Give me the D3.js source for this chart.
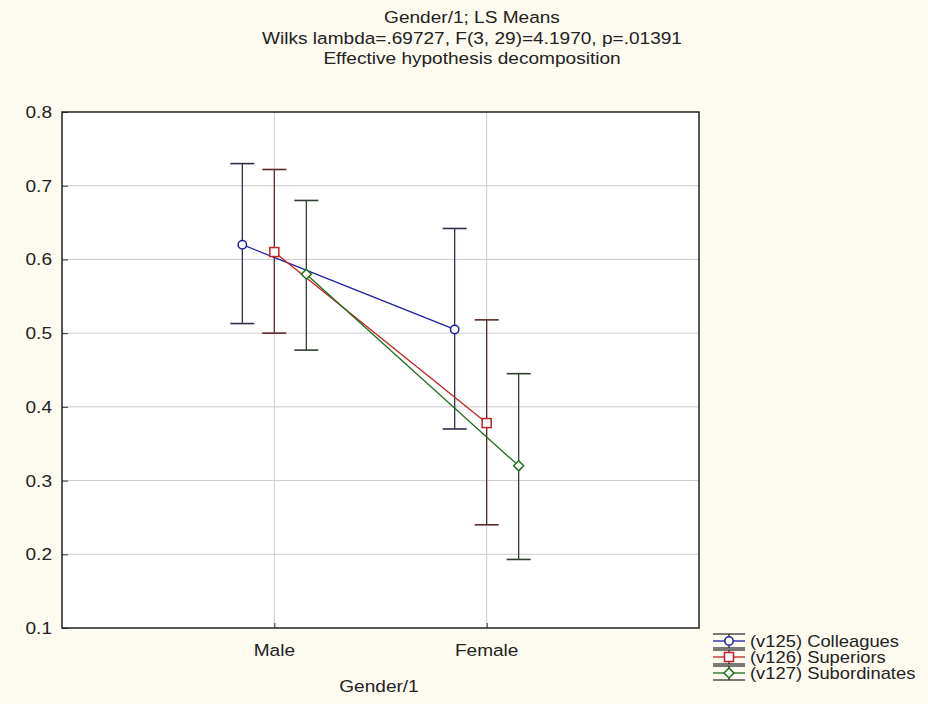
<!DOCTYPE html>
<html>
<head>
<meta charset="utf-8">
<script src="https://cdn.jsdelivr.net/npm/d3@7"></script>
<style>
  body { margin: 0; background: #fdfaf0; }
  svg { display: block; font-family: 'Liberation Sans', Arial, sans-serif; }
</style>
</head>
<body>
<svg id="chart" width="928" height="704"></svg>
<script>
const categories = ['Male', 'Female'];
const seriesNames = ['(v125) Colleagues', '(v126) Superiors', '(v127) Subordinates'];
const colleaguesMean = [0.620, 0.505];
const colleaguesLow = [0.513, 0.370];
const colleaguesHigh = [0.730, 0.642];
const superiorsMean = [0.610, 0.378];
const superiorsLow = [0.500, 0.240];
const superiorsHigh = [0.722, 0.518];
const subordinatesMean = [0.580, 0.320];
const subordinatesLow = [0.477, 0.193];
const subordinatesHigh = [0.680, 0.445];
const yTicks = [0.1, 0.2, 0.3, 0.4, 0.5, 0.6, 0.7, 0.8];
const titleLines = [
  'Gender/1; LS Means',
  'Wilks lambda=.69727, F(3, 29)=4.1970, p=.01391',
  'Effective hypothesis decomposition'
];

const series = [
  { name: seriesNames[0], mean: colleaguesMean, low: colleaguesLow, high: colleaguesHigh,
    color: '#1c1ca0', bar: '#30304a', marker: 'circle' },
  { name: seriesNames[1], mean: superiorsMean, low: superiorsLow, high: superiorsHigh,
    color: '#c42020', bar: '#5a2a2a', marker: 'square' },
  { name: seriesNames[2], mean: subordinatesMean, low: subordinatesLow, high: subordinatesHigh,
    color: '#1e6e1e', bar: '#2f3f2f', marker: 'diamond' }
];

// the source image text is a bit wider than it is tall
const stretch = 1.17;
const fontSize = 16.3;

const svg = d3.select('#chart');
const margin = { left: 62, top: 112, right: 699, bottom: 628 };

const x = d3.scalePoint().domain(categories).range([margin.left, margin.right]).padding(1);
const offset = d3.scalePoint().domain(d3.range(series.length)).range([-32, 32]);
const y = d3.scaleLinear().domain([0.1, 0.8]).range([margin.bottom, margin.top]);

function label(parent, tx, ty, txt, anchor, size) {
  return parent.append('text')
    .attr('transform', `translate(${tx},${ty}) scale(${stretch},1)`)
    .attr('text-anchor', anchor || 'middle')
    .attr('fill', '#222')
    .style('font-size', (size || fontSize) + 'px')
    .text(txt);
}

// plot background
svg.append('rect')
  .attr('x', margin.left).attr('y', margin.top)
  .attr('width', margin.right - margin.left).attr('height', margin.bottom - margin.top)
  .attr('fill', '#ffffff');

// grid
svg.append('g')
  .selectAll('line')
  .data(yTicks.slice(1, -1))
  .join('line')
  .attr('x1', margin.left).attr('x2', margin.right)
  .attr('y1', d => y(d)).attr('y2', d => y(d))
  .attr('stroke', '#cccccc');
svg.append('g')
  .selectAll('line')
  .data(categories)
  .join('line')
  .attr('x1', d => x(d)).attr('x2', d => x(d))
  .attr('y1', margin.top).attr('y2', margin.bottom)
  .attr('stroke', '#cccccc');

// axes: ticks pointing inwards, labels drawn separately
const yAxis = svg.append('g')
  .attr('transform', `translate(${margin.left},0)`)
  .call(d3.axisLeft(y).tickValues(yTicks).tickFormat('').tickSizeInner(-6).tickSizeOuter(0));
const xAxis = svg.append('g')
  .attr('transform', `translate(0,${margin.bottom})`)
  .call(d3.axisBottom(x).tickFormat('').tickSizeInner(-5).tickSizeOuter(0));
[yAxis, xAxis].forEach(a => {
  a.select('.domain').remove();
  a.selectAll('.tick line').attr('stroke', '#333');
});
const tickLabels = svg.append('g');
yTicks.forEach(t => label(tickLabels, margin.left - 10, y(t) + 6, d3.format('.1f')(t), 'end'));
categories.forEach(c => label(tickLabels, x(c), margin.bottom + 28, c));

// frame
svg.append('rect')
  .attr('x', margin.left).attr('y', margin.top)
  .attr('width', margin.right - margin.left).attr('height', margin.bottom - margin.top)
  .attr('fill', 'none').attr('stroke', '#222').attr('stroke-width', 1.5);

// lines, error bars and markers
const cap = 12;
function drawMarker(g, type, color) {
  if (type === 'circle') {
    g.append('circle').attr('r', 4.2).attr('fill', '#fff').attr('stroke', color).attr('stroke-width', 1.5);
  } else if (type === 'square') {
    g.append('rect').attr('x', -4.5).attr('y', -4.5).attr('width', 9).attr('height', 9)
      .attr('fill', '#fff').attr('stroke', color).attr('stroke-width', 1.5);
  } else {
    g.append('path').attr('d', 'M0,-5L5,0L0,5L-5,0Z')
      .attr('fill', '#fff').attr('stroke', color).attr('stroke-width', 1.5);
  }
}

series.forEach((s, i) => {
  const g = svg.append('g');
  const px = c => x(c) + offset(i);
  g.append('path')
    .datum(categories)
    .attr('fill', 'none')
    .attr('stroke', s.color)
    .attr('stroke-width', 1.3)
    .attr('d', d3.line().x(c => px(c)).y((c, j) => y(s.mean[j])));
  categories.forEach((c, j) => {
    const bx = px(c);
    g.append('line').attr('x1', bx).attr('x2', bx)
      .attr('y1', y(s.low[j])).attr('y2', y(s.high[j]))
      .attr('stroke', s.bar).attr('stroke-width', 1.3);
    [s.low[j], s.high[j]].forEach(v => {
      g.append('line').attr('x1', bx - cap).attr('x2', bx + cap)
        .attr('y1', y(v)).attr('y2', y(v))
        .attr('stroke', s.bar).attr('stroke-width', 1.6);
    });
  });
  categories.forEach((c, j) => {
    const m = g.append('g').attr('transform', `translate(${px(c)},${y(s.mean[j])})`);
    drawMarker(m, s.marker, s.color);
  });
});

// title
const title = svg.append('g');
titleLines.forEach((t, i) => label(title, 472, 23 + i * 20.5, t));

// x axis title
label(svg, 379, 692, 'Gender/1');

// legend
const legend = svg.append('g').attr('transform', 'translate(713,641)');
const symW = 32;
series.forEach((s, i) => {
  const row = legend.append('g').attr('transform', `translate(0,${i * 16})`);
  [-7, 7].forEach(dy => {
    row.append('line').attr('x1', 0).attr('x2', symW).attr('y1', dy).attr('y2', dy)
      .attr('stroke', '#222').attr('stroke-width', 1.2);
  });
  row.append('line').attr('x1', symW / 2).attr('x2', symW / 2).attr('y1', -7).attr('y2', 7)
    .attr('stroke', '#222').attr('stroke-width', 1.2);
  row.append('line').attr('x1', 0).attr('x2', symW).attr('y1', 0).attr('y2', 0)
    .attr('stroke', s.color).attr('stroke-width', 1.3);
  const m = row.append('g').attr('transform', `translate(${symW / 2},0)`);
  drawMarker(m, s.marker, s.color);
  label(row, 37, 5.5, s.name, 'start', 15.7);
});
</script>
</body>
</html>
